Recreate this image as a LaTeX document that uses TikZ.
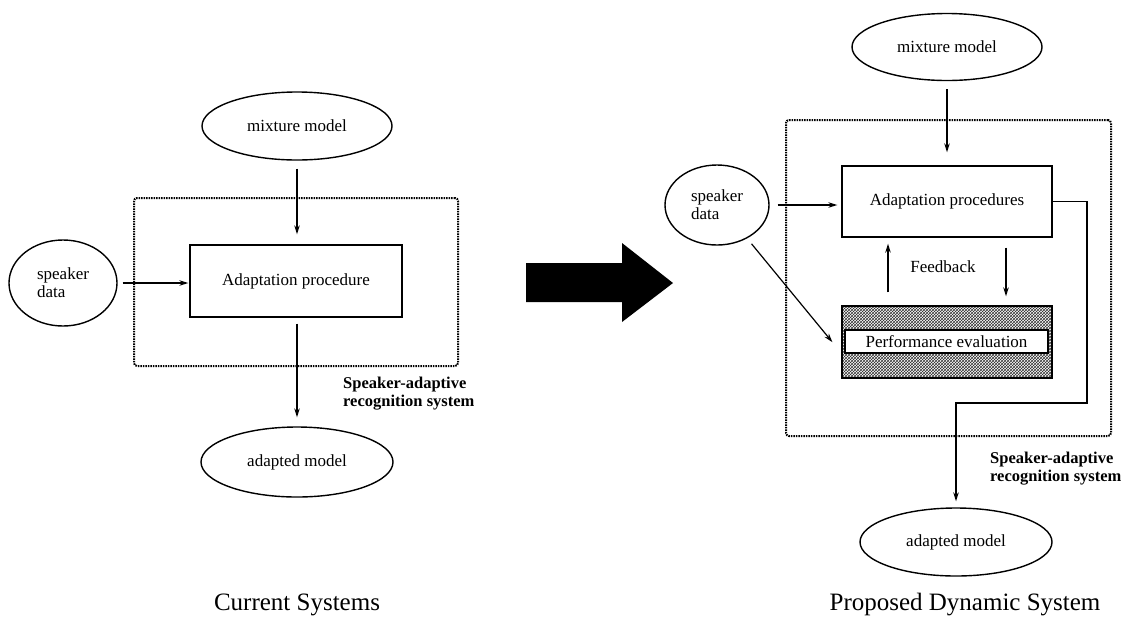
\documentclass[tikz,border=0pt]{standalone}
\usepackage{fontspec}
\setmainfont{Liberation Serif}
\usetikzlibrary{shapes.geometric,arrows.meta,patterns}
\begin{document}
\begin{tikzpicture}[x=1pt,y=-1pt,
  lbl/.style={font=\fontsize{17}{18}\selectfont},
  oval/.style={ellipse,draw,line width=1.4pt,inner sep=0pt,font=\fontsize{17}{18}\selectfont},
  procbox/.style={rectangle,draw,line width=1.4pt,inner sep=0pt,font=\fontsize{17}{18}\selectfont},
  sysbox/.style={rectangle,draw,line width=2pt,dash pattern=on 1.5pt off 1pt,rounded corners=3pt,inner sep=0pt},
  syslbl/.style={font=\bfseries\fontsize{16.5}{18}\selectfont,align=left,anchor=west,inner sep=0pt},
  arr/.style={draw,line width=1.2pt,-{Stealth[length=9pt,width=5.5pt]}},
  captxt/.style={font=\fontsize{25}{28}\selectfont}]
\useasboundingbox (0,0) rectangle (1134,625);

% ---------- Current system ----------
\node[sysbox,minimum width=324pt,minimum height=168pt] (lsys) at (296,282) {};
\node[oval,minimum width=190pt,minimum height=68pt] (lmix) at (297,126) {mixture model};
\node[oval,minimum width=108pt,minimum height=86pt,align=left] (lspk) at (63,283) {speaker\\data};
\node[procbox,minimum width=212pt,minimum height=72pt] (lbox) at (296,281) {Adaptation procedure};
\node[oval,minimum width=192pt,minimum height=70pt] (lout) at (297,462) {adapted model};
\node[syslbl] (llab) at (343,394) {Speaker-adaptive\\recognition system};

\draw[arr,shorten <=8pt,shorten >=10pt] (lmix.south) -- (lmix.south |- lbox.north);
\draw[arr,shorten <=5pt,shorten >=1pt] (lspk.east) -- (lspk.east -| lbox.west);
\draw[arr,shorten <=6pt,shorten >=9pt] (lmix.south |- lbox.south) -- (lout.north);

% ---------- Big arrow ----------
\fill[black] (526,263) -- (622,263) -- (622,243) -- (673,283) -- (622,322) -- (622,302) -- (526,302) -- cycle;

% ---------- Proposed dynamic system ----------
\node[sysbox,minimum width=325pt,minimum height=316pt] (rsys) at (948.5,278) {};
\node[oval,minimum width=190pt,minimum height=67pt] (rmix) at (947,47) {mixture model};
\node[oval,minimum width=104pt,minimum height=80pt,align=left] (rspk) at (717,205) {speaker\\data};
\node[procbox,minimum width=210pt,minimum height=71pt] (rbox) at (947,201.5) {Adaptation procedures};
\node[rectangle,draw,line width=1.4pt,minimum width=210pt,minimum height=72pt,fill=gray!60,
      pattern=crosshatch,pattern color=black!80] (rperf) at (947,342) {};
\node[rectangle,draw,line width=1.4pt,fill=white,minimum width=203pt,minimum height=23pt,inner sep=0pt,
      font=\fontsize{17}{18}\selectfont] (rperfin) at (946.5,341.5) {Performance evaluation};
\node[lbl] (fb) at (943,267) {Feedback};
\node[oval,minimum width=192pt,minimum height=68pt] (rout) at (956,542) {adapted model};
\node[syslbl] (rlab) at (990,469) {Speaker-adaptive\\recognition system};
\coordinate (rturn) at (1087,403);

\draw[arr,shorten <=8pt,shorten >=13pt] (rmix.south) -- (rbox.north);
\draw[arr,shorten <=8pt,shorten >=4pt] (rspk.east) -- (rspk.east -| rbox.west);
\draw[arr,shorten <=7pt,shorten >=14pt] (rspk.-48) -- ([yshift=-11pt]rperf.west);
\draw[arr,shorten <=13pt,shorten >=6pt] ([xshift=-59pt]rperf.north) -- ([xshift=-59pt]rbox.south);
\draw[arr,shorten <=10pt,shorten >=9pt] ([xshift=59pt]rbox.south) -- ([xshift=59pt]rperf.north);
\draw[arr,shorten >=6pt] (rbox.east) -| (rturn) -| (rout.north);

% ---------- Captions ----------
\node[captxt] (capl) at (297,605) {Current Systems};
\node[captxt] (capr) at (965,605) {Proposed Dynamic System};
\end{tikzpicture}
\end{document}
